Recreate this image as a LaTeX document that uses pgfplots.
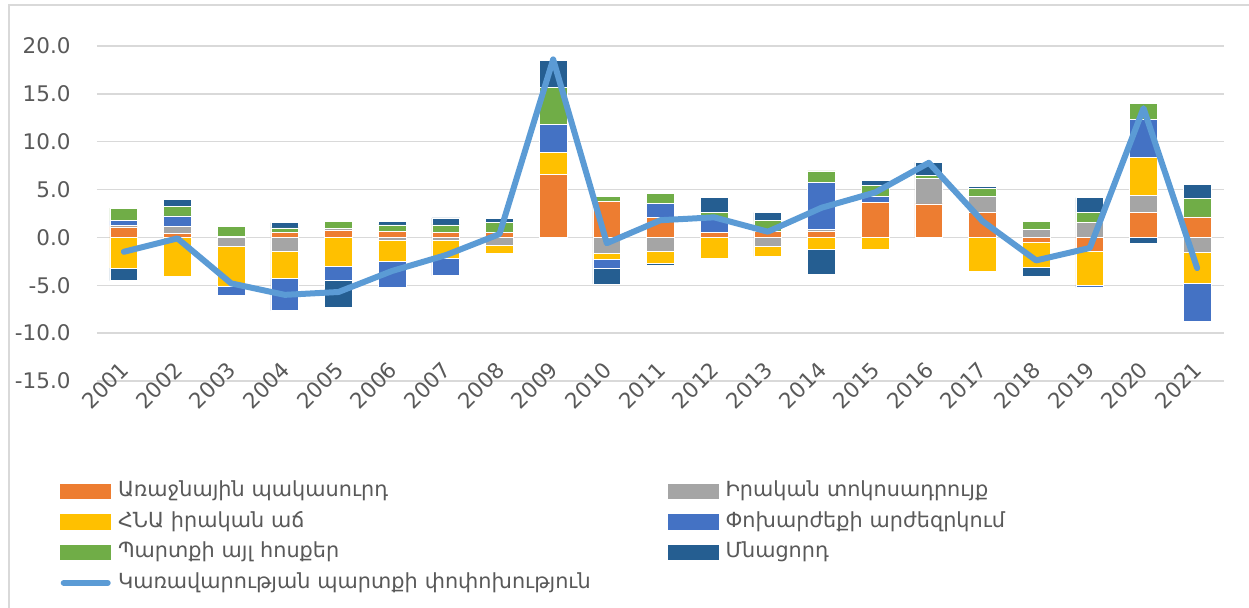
\documentclass[border=0pt]{standalone}
\usepackage{pgfplots}
\pgfplotsset{compat=1.18}
\usepackage{pgfplotstable}
\usepackage{fontspec}
\setmainfont{DejaVu Sans}
\definecolor{cOra}{HTML}{ED7D31}
\definecolor{cGra}{HTML}{A5A5A5}
\definecolor{cYel}{HTML}{FFC000}
\definecolor{cBlu}{HTML}{4472C4}
\definecolor{cGrn}{HTML}{70AD47}
\definecolor{cDbl}{HTML}{255E91}
\definecolor{cLine}{HTML}{5B9BD5}
\definecolor{cTxt}{HTML}{595959}
\definecolor{cGrid}{HTML}{D9D9D9}

\pgfplotstableread{
yr ora gra yel blu grn dbl debt
2001 1.1 0.15 -3.2 0.5 1.3 -1.3 -1.5
2002 0.4 0.75 -4.1 1.1 1.0 0.75 -0.1
2003 0.1 -0.95 -4.2 -0.85 1.05 0 -4.8
2004 0.5 -1.5 -2.75 -3.4 0.5 0.55 -6.0
2005 0.7 0.25 -3.0 -1.45 0.7 -2.85 -5.7
2006 0.6 -0.25 -2.2 -2.8 0.7 0.35 -3.5
2007 0.55 -0.35 -1.85 -1.8 0.75 0.75 -1.85
2008 0.5 -0.8 -0.85 0 1.05 0.4 0.35
2009 6.6 0 2.25 3.0 3.8 2.85 18.6
2010 3.75 -1.65 -0.6 -1.0 0.55 -1.6 -0.6
2011 2.1 -1.4 -1.35 1.45 1.05 -0.15 1.8
2012 0.5 0 -2.2 1.5 0.6 1.6 2.1
2013 0.6 -0.95 -1.05 0 1.2 0.8 0.6
2014 0.6 0.25 -1.2 4.9 1.2 -2.7 3.1
2015 3.65 0 -1.2 0.6 1.2 0.5 4.7
2016 3.5 2.65 0 0 0.3 1.4 7.8
2017 2.6 1.7 -3.55 0 0.85 0.15 1.7
2018 -0.55 0.85 -2.6 0 0.8 -0.95 -2.4
2019 -1.4 1.6 -3.55 -0.3 1.05 1.5 -1.1
2020 2.65 1.75 4.0 3.9 1.7 -0.65 13.5
2021 2.15 -1.55 -3.2 -4.05 1.9 1.5 -3.2
}\data

\pgfplotsset{
  base/.style={scale only axis, width=563.5pt, height=167.5pt,
    at={(48.5pt,113pt)}, anchor=south west,
    xmin=2000.5, xmax=2021.5, ymin=-15, ymax=20, clip=false},
  stk/.style={base, ybar stacked, bar width=0.52},
  barleg/.style={legend image code/.code={\fill[#1] (0pt,-3.6pt) rectangle (25pt,3.6pt);}},
  bs/.style={fill=#1, draw=white, line width=0.3pt, barleg=#1},
}
\newcommand{\tfont}{\fontsize{10.75}{13}\selectfont}
\newcommand{\lfont}{\fontsize{10.4}{12.5}\selectfont}

\begin{document}
\begin{tikzpicture}
\useasboundingbox (0,0) rectangle (624.5pt,303.5pt);
\draw[cGrid, line width=0.8pt] (4.5pt,-2pt) -- (4.5pt,301pt) -- (630pt,301pt);
\begin{axis}[stk,
  axis line style={draw=none}, major tick length=0pt,
  ymajorgrids, major grid style={cGrid, line width=0.7pt},
  ytick={-15,-10,-5,0,5,10,15,20},
  yticklabels={-15.0,-10.0,-5.0,0.0,5.0,10.0,15.0,20.0},
  yticklabel style={font=\tfont, color=cTxt, anchor=east, inner sep=0pt, xshift=-13pt},
  xtick={2001,2002,...,2021},
  xticklabels={2001,2002,2003,2004,2005,2006,2007,2008,2009,2010,2011,2012,2013,2014,2015,2016,2017,2018,2019,2020,2021},
  xticklabel style={font=\tfont, color=cTxt, yshift=7.75pt, xshift=0.5pt, rotate=45, anchor=east, inner sep=0pt},
  legend columns=2,
  legend style={at={(-0.0328,-0.297)}, anchor=north west, draw=none, fill=none,
    font=\lfont, text=cTxt, inner sep=0pt,
    nodes={inner sep=0pt, anchor=west, text height=8pt, text depth=2.5pt, text width=262pt},
    row sep=4.75pt,
    /tikz/every odd column/.append style={column sep=3.5pt},
    /tikz/every even column/.append style={column sep=13pt}},
]
\addplot[bs=cOra] table[x=yr, y expr={max(\thisrow{ora},0)}]{\data};
\addplot[bs=cGra] table[x=yr, y expr={max(\thisrow{gra},0)}]{\data};
\addplot[bs=cYel] table[x=yr, y expr={max(\thisrow{yel},0)}]{\data};
\addplot[bs=cBlu] table[x=yr, y expr={max(\thisrow{blu},0)}]{\data};
\addplot[bs=cGrn] table[x=yr, y expr={max(\thisrow{grn},0)}]{\data};
\addplot[bs=cDbl] table[x=yr, y expr={max(\thisrow{dbl},0)}]{\data};
\addlegendimage{legend image code/.code={\draw[cLine, line width=3pt, line cap=round] (1.5pt,0pt) -- (23.5pt,0pt);}}
\legend{Առաջնային պակասուրդ, Իրական տոկոսադրույք, ՀՆԱ իրական աճ, Փոխարժեքի արժեզրկում, Պարտքի այլ հոսքեր, Մնացորդ, Կառավարության պարտքի փոփոխություն}
\end{axis}
\begin{axis}[stk, hide axis]
\addplot[bs=cOra] table[x=yr, y expr={min(\thisrow{ora},0)}]{\data};
\addplot[bs=cGra] table[x=yr, y expr={min(\thisrow{gra},0)}]{\data};
\addplot[bs=cYel] table[x=yr, y expr={min(\thisrow{yel},0)}]{\data};
\addplot[bs=cBlu] table[x=yr, y expr={min(\thisrow{blu},0)}]{\data};
\addplot[bs=cGrn] table[x=yr, y expr={min(\thisrow{grn},0)}]{\data};
\addplot[bs=cDbl] table[x=yr, y expr={min(\thisrow{dbl},0)}]{\data};
\end{axis}
\begin{axis}[base, hide axis]
\addplot[cLine, line width=3pt, line join=round, line cap=round, mark=none] table[x=yr, y=debt]{\data};
\end{axis}
\end{tikzpicture}
\end{document}
